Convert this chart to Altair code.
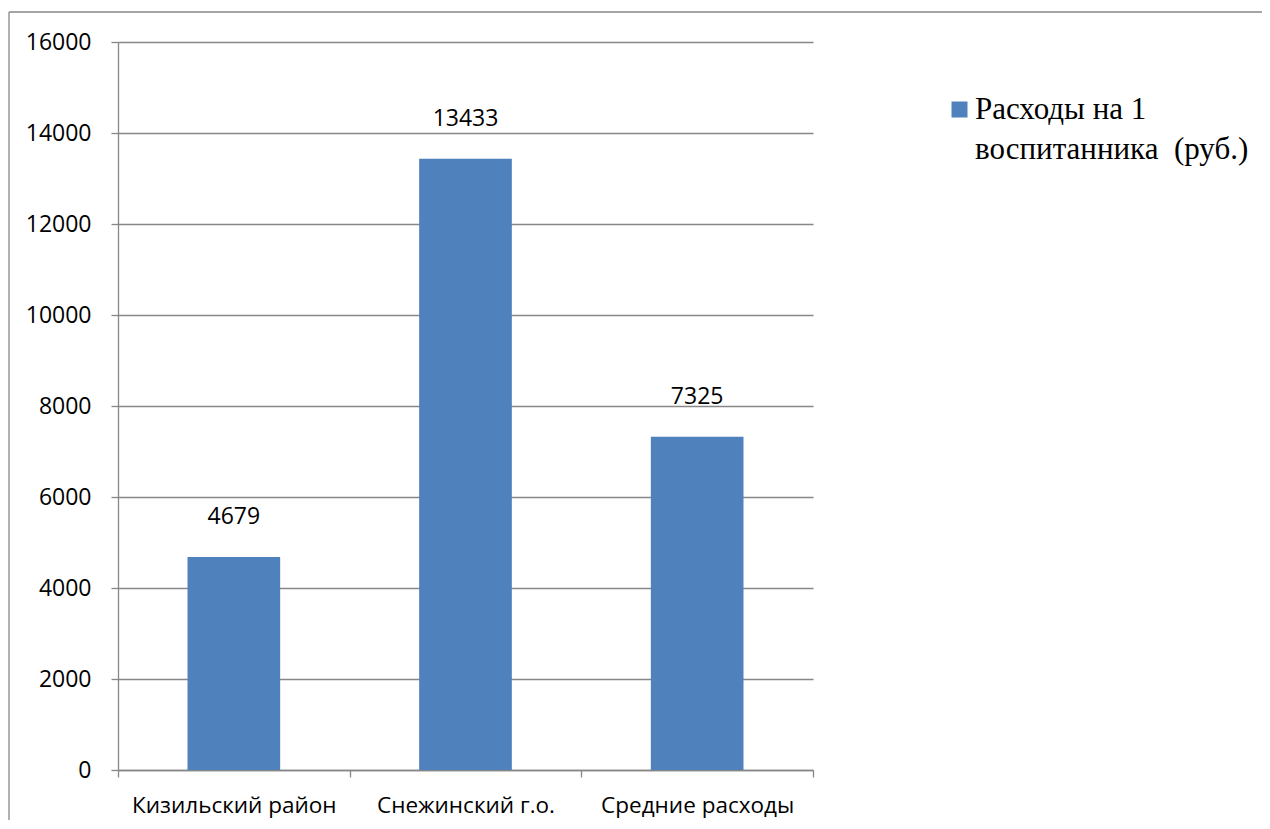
import altair as alt
import pandas as pd

categories = ["Кизильский район", "Снежинский г.о.", "Средние расходы"]
values = [4679, 13433, 7325]
series_name = "Расходы на 1 воспитанника  (руб.)"
legend_lines = ["Расходы на 1", "воспитанника\u00a0 (руб.)"]
y_ticks = [0, 2000, 4000, 6000, 8000, 10000, 12000, 14000, 16000]

df = pd.DataFrame({"cat": categories, "val": values, "series": [series_name] * len(categories)})

GRAY = "#878787"
BLUE = "#4F81BD"
SANS = "Open Sans"
SERIF = "Liberation Serif"

base = alt.Chart(df)

label_expr = "[" + ", ".join("'" + s + "'" for s in legend_lines) + "]"

bars = base.mark_bar(color=BLUE, width=alt.RelativeBandSize(0.4)).encode(
    x=alt.X(
        "cat:N",
        sort=categories,
        title=None,
        scale=alt.Scale(paddingInner=0, paddingOuter=0),
        axis=alt.Axis(
            labelAngle=0,
            tickBand="extent",
            tickSize=7,
            tickColor=GRAY,
            tickWidth=1.3,
            domainColor=GRAY,
            domainWidth=1.3,
            labelFont=SANS,
            labelFontSize=22.5,
            labelColor="black",
            labelPadding=17,
            labelLimit=400,
            grid=False,
        ),
    ),
    y=alt.Y(
        "val:Q",
        title=None,
        scale=alt.Scale(domain=[0, 16000], nice=False),
        axis=alt.Axis(
            values=y_ticks,
            format="d",
            grid=True,
            gridColor=GRAY,
            gridWidth=1.3,
            tickSize=7,
            tickColor=GRAY,
            tickWidth=1.3,
            domainColor=GRAY,
            domainWidth=1.3,
            labelFont=SANS,
            labelFontSize=23,
            labelColor="black",
            labelPadding=20,
        ),
    ),
    color=alt.Color(
        "series:N",
        scale=alt.Scale(range=[BLUE]),
        legend=alt.Legend(
            title=None,
            orient="none",
            legendX=826,
            legendY=52,
            symbolType="square",
            symbolSize=256,
            symbolStrokeWidth=0,
            symbolFillColor=BLUE,
            labelFont=SERIF,
            labelFontSize=31,
            labelColor="black",
            labelOffset=0,
            labelLimit=600,
            padding=0,
            labelExpr=label_expr,
        ),
    ),
)

labels = base.mark_text(
    font=SANS, fontSize=23, color="black", baseline="alphabetic", dy=-33
).encode(
    x=alt.X("cat:N", sort=categories),
    y=alt.Y("val:Q"),
    text=alt.Text("val:Q", format="d"),
)

one = pd.DataFrame({"a": [0]})
frame_left = alt.Chart(one).mark_rule(color=GRAY, strokeWidth=1.3).encode(
    x=alt.value(-109), y=alt.value(-30), y2=alt.value(800)
)
frame_top = alt.Chart(one).mark_rule(color=GRAY, strokeWidth=1.3).encode(
    x=alt.value(-109), x2=alt.value(1150), y=alt.value(-30)
)

chart = (
    alt.layer(bars, labels, frame_left, frame_top)
    .properties(
        width=695,
        height=728,
        autosize=alt.AutoSizeParams(type="none"),
        padding={"left": 110, "top": 34, "right": 449, "bottom": 50},
    )
    .configure_view(stroke=None)
)
chart.config.style = {"guide-label": {"lineHeight": 40}}

chart.save("out.html", embed_options={"renderer": "svg", "actions": False})
